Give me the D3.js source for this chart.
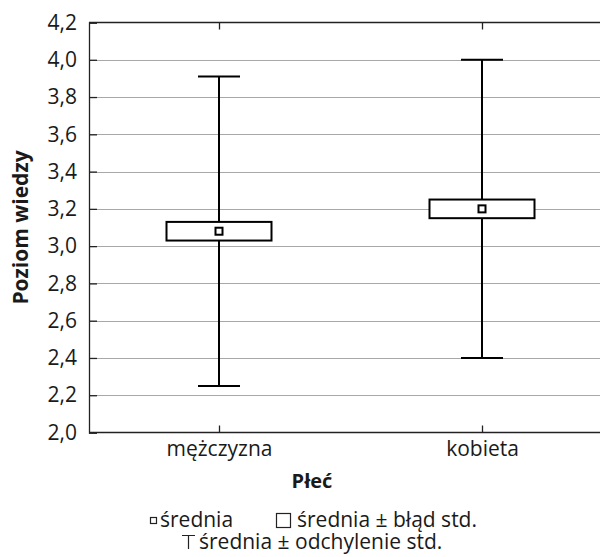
<!DOCTYPE html>
<html>
<head>
<meta charset="utf-8">
<script src="https://cdn.jsdelivr.net/npm/d3@7"></script>
<style>
  body { margin: 0; background: #fff; }
  svg { display: block; font-family: "Open Sans", sans-serif; }
</style>
</head>
<body>
<div id="chart"></div>
<script>
// data
const categories = ['mężczyzna', 'kobieta'];
const means = [3.08, 3.20];
const stdErr = [0.05, 0.05];
const stdDev = [0.83, 0.80];
const yTicks = [2.0, 2.2, 2.4, 2.6, 2.8, 3.0, 3.2, 3.4, 3.6, 3.8, 4.0, 4.2];

const width = 600, height = 557;
const mLeft = 89, mTop = 22.5, mBottom = 432.5, mRight = 600;

const svg = d3.select('#chart').append('svg')
  .attr('width', width)
  .attr('height', height);

const x = d3.scalePoint()
  .domain(categories)
  .range([mLeft - 1.5, 613.5])
  .padding(0.5);

const y = d3.scaleLinear()
  .domain([2.0, 4.2])
  .range([mBottom, mTop]);

const fmt = d => d.toFixed(1).replace('.', ',');

// grid lines
svg.append('g')
  .selectAll('line')
  .data(yTicks.slice(1, -1))
  .enter().append('line')
  .attr('x1', mLeft).attr('x2', mRight)
  .attr('y1', d => Math.round(y(d)) + 0.5)
  .attr('y2', d => Math.round(y(d)) + 0.5)
  .attr('stroke', '#a8a8a8')
  .attr('stroke-width', 1);

// y axis
const yAxis = svg.append('g')
  .attr('transform', 'translate(' + mLeft + ',0)')
  .call(d3.axisLeft(y).tickValues(yTicks).tickFormat(fmt).tickSize(-8).tickPadding(12));
yAxis.selectAll('text').attr('font-size', 21).attr('fill', '#1a1a1a').attr('font-family', '"Open Sans", sans-serif');

// bottom axis
const xAxis = svg.append('g')
  .attr('transform', 'translate(0,' + mBottom + ')')
  .call(d3.axisBottom(x).tickSize(-7).tickPadding(9));
xAxis.select('.domain').attr('d', 'M' + mLeft + ',0H' + mRight);
xAxis.selectAll('text').attr('font-size', 21).attr('fill', '#1a1a1a').attr('font-family', '"Open Sans", sans-serif');

// top frame
const topAxis = svg.append('g')
  .attr('transform', 'translate(0,' + mTop + ')')
  .call(d3.axisTop(x).tickSize(-7).tickFormat(''));
topAxis.select('.domain').attr('d', 'M' + mLeft + ',0H' + mRight);

svg.selectAll('.domain, .tick line').attr('stroke', '#222').attr('stroke-width', 1.3);

// whiskers (mean +/- std dev)
const capW = 42, boxW = 105, markS = 7;
const g = svg.append('g');

categories.forEach(function (c, i) {
  const cx = x(c);
  const lo = means[i] - stdDev[i], hi = means[i] + stdDev[i];
  g.append('line')
    .attr('x1', cx).attr('x2', cx)
    .attr('y1', y(hi)).attr('y2', y(lo))
    .attr('stroke', '#000').attr('stroke-width', 2);
  [lo, hi].forEach(function (v) {
    g.append('line')
      .attr('x1', cx - capW / 2).attr('x2', cx + capW / 2)
      .attr('y1', y(v)).attr('y2', y(v))
      .attr('stroke', '#000').attr('stroke-width', 2);
  });
  // box (mean +/- std err)
  g.append('rect')
    .attr('x', cx - boxW / 2)
    .attr('y', y(means[i] + stdErr[i]))
    .attr('width', boxW)
    .attr('height', y(means[i] - stdErr[i]) - y(means[i] + stdErr[i]))
    .attr('fill', '#fff')
    .attr('stroke', '#000').attr('stroke-width', 2);
  // mean marker
  g.append('rect')
    .attr('x', cx - markS / 2)
    .attr('y', y(means[i]) - markS / 2)
    .attr('width', markS).attr('height', markS)
    .attr('fill', '#fff')
    .attr('stroke', '#000').attr('stroke-width', 2);
});

// axis titles
svg.append('text')
  .attr('transform', 'translate(28,' + ((mTop + mBottom) / 2) + ') rotate(-90)')
  .attr('text-anchor', 'middle')
  .attr('font-size', 21).attr('font-weight', 'bold').attr('fill', '#1a1a1a')
  .text('Poziom wiedzy');

svg.append('text')
  .attr('x', 312).attr('y', 488)
  .attr('text-anchor', 'middle')
  .attr('font-size', 20).attr('font-weight', 'bold').attr('fill', '#1a1a1a')
  .text('Płeć');

// legend
const leg = svg.append('g').attr('font-size', 21).attr('fill', '#1a1a1a');
leg.append('rect').attr('x', 150.5).attr('y', 517.5).attr('width', 6).attr('height', 6)
  .attr('fill', '#fff').attr('stroke', '#222').attr('stroke-width', 1.2);
leg.append('text').attr('x', 160).attr('y', 527).text('średnia');
leg.append('rect').attr('x', 276.5).attr('y', 513.5).attr('width', 14).attr('height', 14)
  .attr('fill', '#fff').attr('stroke', '#222').attr('stroke-width', 1.2);
leg.append('text').attr('x', 297).attr('y', 527).text('średnia ± błąd std.');
leg.append('path').attr('d', 'M182,535.5H195M188.5,535.5V549')
  .attr('fill', 'none').attr('stroke', '#222').attr('stroke-width', 1.2);
leg.append('text').attr('x', 199).attr('y', 549).text('średnia ± odchylenie std.');
</script>
</body>
</html>
